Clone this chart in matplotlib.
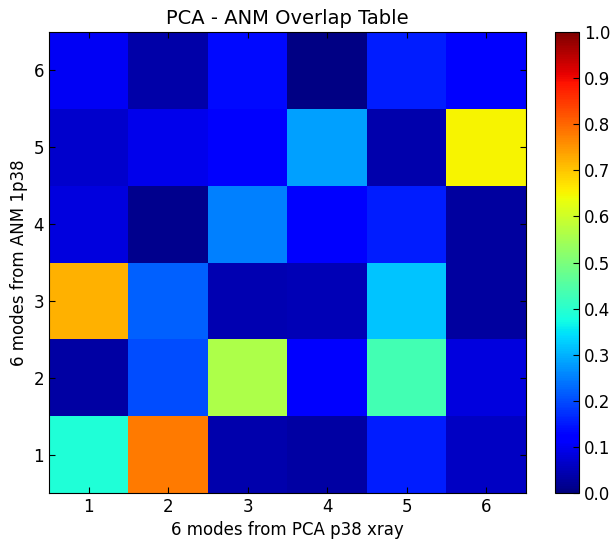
import matplotlib
matplotlib.use('Agg')
import matplotlib.pyplot as plt
import numpy as np

# overlap values, rows = ANM modes 1..6, cols = PCA modes 1..6
modes = [1, 2, 3, 4, 5, 6]
row1 = [0.39, 0.78, 0.04, 0.035, 0.155, 0.062]
row2 = [0.035, 0.20, 0.56, 0.12, 0.43, 0.083]
row3 = [0.72, 0.22, 0.046, 0.05, 0.318, 0.028]
row4 = [0.083, 0.014, 0.25, 0.115, 0.155, 0.03]
row5 = [0.069, 0.097, 0.11, 0.282, 0.04, 0.65]
row6 = [0.105, 0.037, 0.135, 0.005, 0.155, 0.125]
cbar_ticks = [0.0, 0.1, 0.2, 0.3, 0.4, 0.5, 0.6, 0.7, 0.8, 0.9, 1.0]

overlap = np.array([row1, row2, row3, row4, row5, row6])

plt.rcParams['font.family'] = 'DejaVu Sans'
plt.rcParams['font.size'] = 12

fig = plt.figure(figsize=(6.1, 5.44), dpi=100)
ax = fig.add_axes([49 / 610, 1 - 493 / 544, 477 / 610, 461 / 544])
cax = fig.add_axes([555 / 610, 1 - 493 / 544, 24 / 610, 461 / 544])

im = ax.imshow(overlap, cmap='jet', vmin=0, vmax=1, origin='lower',
               interpolation='nearest', aspect='auto',
               extent=[0.5, 6.5, 0.5, 6.5])
ax.set_xticks(modes)
ax.set_yticks(modes)
ax.tick_params(direction='in', top=True, right=True, length=4, labelsize=12)
ax.set_xlabel('6 modes from PCA p38 xray', fontsize=12)
ax.set_ylabel('6 modes from ANM 1p38', fontsize=12)
ax.set_title('PCA - ANM Overlap Table', fontsize=14)

cb = fig.colorbar(im, cax=cax, ticks=cbar_ticks)
cb.ax.tick_params(direction='in', length=4, labelsize=12)
cb.ax.set_yticklabels(['%.1f' % t for t in cbar_ticks])

fig.savefig('out.png', dpi=100)
